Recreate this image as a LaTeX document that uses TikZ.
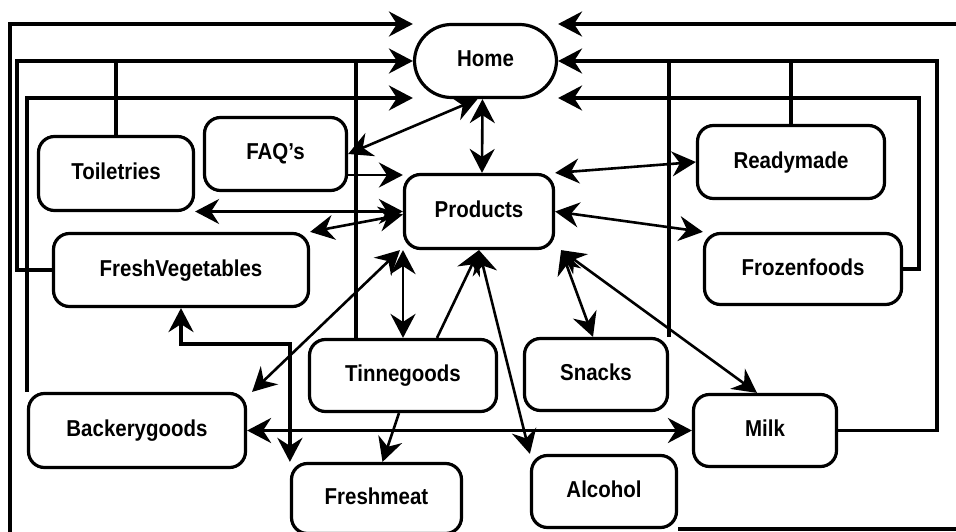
\documentclass[tikz,border=0pt]{standalone}
\usepackage{fontspec}
\newfontfamily\labelfont[FakeStretch=0.89]{Liberation Sans}
\usetikzlibrary{arrows.meta}

\begin{document}
\begin{tikzpicture}[x=1pt,y=-1pt,
  >={Stealth[length=24pt,width=25pt,inset=8pt]},
  box/.style={draw, line width=3.2pt, rounded corners=16pt, inner sep=0pt,
    font=\labelfont\bfseries\fontsize{23}{26}\selectfont,
    text height=17pt, text depth=5pt},
  bus/.style={line width=3.4pt},
  link/.style={line width=2.6pt}]
\useasboundingbox (0,0) rectangle (956,532);

% pages of the shop
\node[box, rounded corners=37pt, minimum width=142pt, minimum height=73pt] (Home) at (485.5,61) {Home};
\node[box, minimum width=142pt, minimum height=73pt] (FAQ) at (275.5,154) {FAQ’s};
\node[box, minimum width=155pt, minimum height=74pt] (Toiletries) at (116,173.5) {Toiletries};
\node[box, minimum width=149pt, minimum height=74pt] (Products) at (479,211.5) {Products};
\node[box, minimum width=187pt, minimum height=73pt] (Readymade) at (791,162) {Readymade};
\node[box, minimum width=255pt, minimum height=73pt] (FreshVegetables) at (181,270) {FreshVegetables};
\node[box, minimum width=197pt, minimum height=71pt] (Frozenfoods) at (803,269) {Frozenfoods};
\node[box, minimum width=187pt, minimum height=72pt] (Tinnegoods) at (403,375.5) {Tinnegoods};
\node[box, minimum width=143pt, minimum height=72pt] (Snacks) at (596,374.5) {Snacks};
\node[box, minimum width=217pt, minimum height=74pt] (Backerygoods) at (137,430.5) {Backerygoods};
\node[box, minimum width=143pt, minimum height=72pt] (Milk) at (765,430.5) {Milk};
\node[box, minimum width=170pt, minimum height=70pt] (Freshmeat) at (376.5,498.5) {Freshmeat};
\node[box, minimum width=145pt, minimum height=72pt] (Alcohol) at (604,491.5) {Alcohol};

% rows and columns of the return buses
\coordinate (RowA) at (0,24);
\coordinate (RowC) at (0,98);
\coordinate (ColB) at (17,0);
\coordinate (ColE) at (356,0);
\coordinate (ColQ) at (919,0);
\coordinate (ColR) at (937,0);
\coordinate (LeftEnd) at (10,545);
\coordinate (RightEnd) at (962,24);
\coordinate (BottomEnd) at (962,528);
\coordinate (FVbend) at (0,344);

% left return buses into Home
\draw[bus,->] (LeftEnd) |- (Home.west |- RowA);
\draw[bus,->] (FreshVegetables.west) -| (ColB |- Home.west) -- (Home.west);
\draw[bus] (Toiletries.north) -- (Toiletries.north |- Home.west);
\draw[bus] (ColE |- Tinnegoods.north) -- (ColE |- Home.west);
\draw[bus,->] (Backerygoods.north west) -- (Backerygoods.north west |- RowC) -- (Home.west |- RowC);

% right return buses into Home
\draw[bus,->] (RightEnd) -- (Home.east |- RowA);
\draw[bus,->] (Milk.east) -| (ColR |- Home.east) -- (Home.east);
\draw[bus] (Readymade.north) -- (Readymade.north |- Home.east);
\draw[bus] (Snacks.north east) -- (Snacks.north east |- Home.east);
\draw[bus,->] (Frozenfoods.east) -| (ColQ |- RowC) -- (Home.east |- RowC);
\draw[bus] (Alcohol.south east) -- (Alcohol.south east -| BottomEnd);

% links around Products
\coordinate (faqout) at ([yshift=-21pt]FAQ.east);
\draw[link,<->] ([xshift=-8pt]Home.south) -- (FAQ.east);
\draw[link,<->] ([xshift=-3pt]Home.south) -- ([xshift=3pt]Products.north);
\draw[link,->] (faqout) -- (faqout -| Products.west);
\draw[link,<->] (Products.west -| Toiletries.east) -- (Products.west);
\draw[link,<->] (FreshVegetables.north east) -- ([yshift=-3pt]Products.west);
\draw[link,<->] (Products.north east) -- (Readymade.west);
\draw[link,<->] (Products.east) -- (Frozenfoods.north west);
\draw[link,<->] ([xshift=6pt]Products.south east) -- ([xshift=-3pt]Snacks.north);
\draw[link,<->] ([xshift=6pt]Products.south east) -- ([xshift=-8pt]Milk.north);
\draw[link,<->] (Products.south) -- (Alcohol.north west);
\draw[link,->] ([xshift=34pt]Tinnegoods.north) -- (Products.south);
\draw[link,<->] (Tinnegoods.north |- Products.south) -- (Tinnegoods.north);
\draw[link,<->] ([xshift=-3pt]Products.south west) -- ([xshift=5pt]Backerygoods.north east);
\draw[bus,<->] (Backerygoods.east) -- (Milk.west);
\draw[bus,<->] (FreshVegetables.south) -- (FreshVegetables.south |- FVbend) -| (Freshmeat.north west);
\draw[link,->] ([xshift=-4pt]Tinnegoods.south) -- ([xshift=6pt]Freshmeat.north);
\end{tikzpicture}
\end{document}
